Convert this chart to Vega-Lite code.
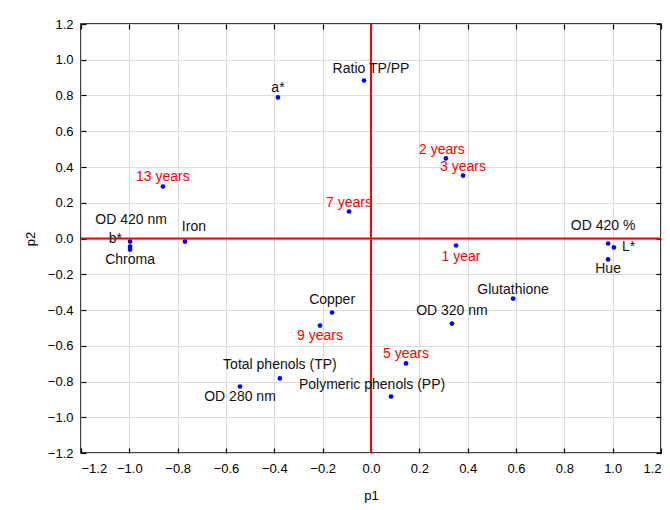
{
  "$schema": "https://vega.github.io/schema/vega-lite/v6.json",
  "width": 580,
  "height": 429,
  "autosize": {"type": "none"},
  "padding": {"left": 81, "top": 24, "right": 9, "bottom": 57},
  "background": "white",
  "config": {
    "font": "Liberation Sans",
    "view": {"stroke": "black", "strokeWidth": 1.5},
    "axis": {
      "domain": false,
      "tickColor": "black",
      "tickSize": -5,
      "tickWidth": 1.2,
      "labelFont": "Liberation Sans",
      "labelFontSize": 13,
      "labelColor": "black",
      "titleFont": "Liberation Sans",
      "titleFontSize": 13,
      "titleFontWeight": "normal",
      "titleColor": "black"
    }
  },
  "resolve": {"axis": {"x": "independent", "y": "independent"}},
  "data": {
    "values": [
      {"name": "13 years", "kind": "sample", "p1": -0.861, "p2": 0.291},
      {"name": "OD 420 nm", "kind": "variable", "p1": -0.997, "p2": -0.017},
      {"name": "b*", "kind": "variable", "p1": -0.997, "p2": -0.045},
      {"name": "Chroma", "kind": "variable", "p1": -0.997, "p2": -0.062},
      {"name": "Iron", "kind": "variable", "p1": -0.77, "p2": -0.017},
      {"name": "a*", "kind": "variable", "p1": -0.385, "p2": 0.789},
      {"name": "Ratio TP/PP", "kind": "variable", "p1": -0.029, "p2": 0.884},
      {"name": "2 years", "kind": "sample", "p1": 0.31, "p2": 0.448},
      {"name": "3 years", "kind": "sample", "p1": 0.381, "p2": 0.352},
      {"name": "7 years", "kind": "sample", "p1": -0.091, "p2": 0.151},
      {"name": "1 year", "kind": "sample", "p1": 0.352, "p2": -0.039},
      {"name": "OD 420 %", "kind": "variable", "p1": 0.981, "p2": -0.028},
      {"name": "L*", "kind": "variable", "p1": 1.005, "p2": -0.05},
      {"name": "Hue", "kind": "variable", "p1": 0.981, "p2": -0.117},
      {"name": "Glutathione", "kind": "variable", "p1": 0.588, "p2": -0.336},
      {"name": "OD 320 nm", "kind": "variable", "p1": 0.335, "p2": -0.476},
      {"name": "Copper", "kind": "variable", "p1": -0.161, "p2": -0.414},
      {"name": "9 years", "kind": "sample", "p1": -0.211, "p2": -0.487},
      {"name": "5 years", "kind": "sample", "p1": 0.145, "p2": -0.699},
      {"name": "Polymeric phenols (PP)", "kind": "variable", "p1": 0.083, "p2": -0.884},
      {"name": "Total phenols (TP)", "kind": "variable", "p1": -0.377, "p2": -0.783},
      {"name": "OD 280 nm", "kind": "variable", "p1": -0.542, "p2": -0.828}
    ]
  },
  "encoding": {
    "x": {
      "field": "p1", "type": "quantitative",
      "scale": {"domain": [-1.2, 1.2], "nice": false, "zero": false},
      "axis": null
    },
    "y": {
      "field": "p2", "type": "quantitative",
      "scale": {"domain": [-1.2, 1.2], "nice": false, "zero": false},
      "axis": null
    },
    "color": {
      "field": "kind", "type": "nominal",
      "scale": {"domain": ["sample", "variable"], "range": ["#ff0000", "#111111"]},
      "legend": null
    }
  },
  "layer": [
    {
      "mark": {"type": "circle", "size": 0, "opacity": 0},
      "encoding": {
        "x": {
          "field": "p1", "type": "quantitative",
          "scale": {"domain": [-1.2, 1.2], "nice": false, "zero": false},
          "axis": {"orient": "bottom", "grid": true, "gridColor": "#dcdcdc", "values": [-1.2, -1.0, -0.8, -0.6, -0.4, -0.2, 0, 0.2, 0.4, 0.6, 0.8, 1.0, 1.2], "format": ".1f", "labelPadding": 14, "titlePadding": 14, "title": "p1"}
        },
        "y": {
          "field": "p2", "type": "quantitative",
          "scale": {"domain": [-1.2, 1.2], "nice": false, "zero": false},
          "axis": {"orient": "left", "grid": true, "gridColor": "#dcdcdc", "values": [-1.2, -1.0, -0.8, -0.6, -0.4, -0.2, 0, 0.2, 0.4, 0.6, 0.8, 1.0, 1.2], "format": ".1f", "labelPadding": 13, "titlePadding": 10, "title": "p2"}
        },
        "color": null
      }
    },
    {
      "mark": {"type": "circle", "size": 0, "opacity": 0},
      "encoding": {
        "x": {
          "field": "p1", "type": "quantitative",
          "scale": {"domain": [-1.2, 1.2], "nice": false, "zero": false},
          "axis": {"orient": "top", "grid": false, "labels": false, "title": null, "values": [-1.2, -1.0, -0.8, -0.6, -0.4, -0.2, 0, 0.2, 0.4, 0.6, 0.8, 1.0, 1.2]}
        },
        "y": {
          "field": "p2", "type": "quantitative",
          "scale": {"domain": [-1.2, 1.2], "nice": false, "zero": false},
          "axis": {"orient": "right", "grid": false, "labels": false, "title": null, "values": [-1.2, -1.0, -0.8, -0.6, -0.4, -0.2, 0, 0.2, 0.4, 0.6, 0.8, 1.0, 1.2]}
        },
        "color": null
      }
    },
    {
      "data": {"values": [{"v": 0}]},
      "mark": {"type": "rule", "color": "#ff0000", "strokeWidth": 2},
      "encoding": {"x": {"field": "v", "type": "quantitative", "axis": null}, "y": null, "color": null}
    },
    {
      "data": {"values": [{"v": 0}]},
      "mark": {"type": "rule", "color": "#ff0000", "strokeWidth": 2},
      "encoding": {"y": {"field": "v", "type": "quantitative", "axis": null}, "x": null, "color": null}
    },
    {
      "mark": {"type": "circle", "size": 22, "opacity": 1, "color": "#0000ff"},
      "encoding": {"color": {"value": "#0000ff"}}
    },
    {
      "transform": [{"filter": {"field": "name", "oneOf": ["13 years", "3 years", "7 years", "5 years", "a*", "Glutathione"]}}],
      "mark": {"type": "text", "fontSize": 14, "dy": -9},
      "encoding": {"text": {"field": "name"}}
    },
    {
      "transform": [{"filter": {"field": "name", "oneOf": ["2 years"]}}],
      "mark": {"type": "text", "fontSize": 14, "dy": -8, "dx": -4},
      "encoding": {"text": {"field": "name"}}
    },
    {
      "transform": [{"filter": {"field": "name", "oneOf": ["OD 320 nm", "Copper", "Total phenols (TP)"]}}],
      "mark": {"type": "text", "fontSize": 14, "dy": -13},
      "encoding": {"text": {"field": "name"}}
    },
    {
      "transform": [{"filter": {"field": "name", "oneOf": ["Ratio TP/PP"]}}],
      "mark": {"type": "text", "fontSize": 14, "dy": -11, "dx": 7},
      "encoding": {"text": {"field": "name"}}
    },
    {
      "transform": [{"filter": {"field": "name", "oneOf": ["Polymeric phenols (PP)"]}}],
      "mark": {"type": "text", "fontSize": 14, "dy": -12, "dx": -19},
      "encoding": {"text": {"field": "name"}}
    },
    {
      "transform": [{"filter": {"field": "name", "oneOf": ["Iron"]}}],
      "mark": {"type": "text", "fontSize": 14, "dy": -15, "dx": 9},
      "encoding": {"text": {"field": "name"}}
    },
    {
      "transform": [{"filter": {"field": "name", "oneOf": ["OD 420 nm"]}}],
      "mark": {"type": "text", "fontSize": 14, "dy": -22, "dx": 1},
      "encoding": {"text": {"field": "name"}}
    },
    {
      "transform": [{"filter": {"field": "name", "oneOf": ["OD 420 %"]}}],
      "mark": {"type": "text", "fontSize": 14, "dy": -18, "dx": -5},
      "encoding": {"text": {"field": "name"}}
    },
    {
      "transform": [{"filter": {"field": "name", "oneOf": ["b*"]}}],
      "mark": {"type": "text", "fontSize": 14, "align": "right", "dx": -8, "dy": -8},
      "encoding": {"text": {"field": "name"}}
    },
    {
      "transform": [{"filter": {"field": "name", "oneOf": ["L*"]}}],
      "mark": {"type": "text", "fontSize": 14, "align": "left", "dx": 8, "dy": 0},
      "encoding": {"text": {"field": "name"}}
    },
    {
      "transform": [{"filter": {"field": "name", "oneOf": ["9 years", "Hue", "OD 280 nm", "Chroma"]}}],
      "mark": {"type": "text", "fontSize": 14, "dy": 10},
      "encoding": {"text": {"field": "name"}}
    },
    {
      "transform": [{"filter": {"field": "name", "oneOf": ["1 year"]}}],
      "mark": {"type": "text", "fontSize": 14, "dy": 12, "dx": 5},
      "encoding": {"text": {"field": "name"}}
    }
  ]
}
